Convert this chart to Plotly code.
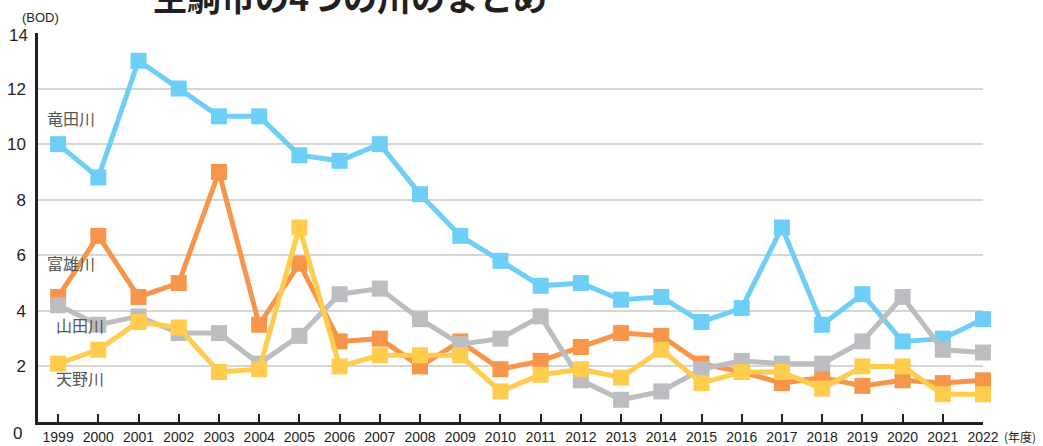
import plotly.graph_objects as go

YEARS = list(range(1999, 2023))

TATSUTA = [10.0, 8.8, 13.0, 12.0, 11.0, 11.0, 9.6, 9.4, 10.0, 8.2, 6.7, 5.8,
           4.9, 5.0, 4.4, 4.5, 3.6, 4.1, 7.0, 3.5, 4.6, 2.9, 3.0, 3.7]
TOMIO = [4.5, 6.7, 4.5, 5.0, 9.0, 3.5, 5.7, 2.9, 3.0, 2.0, 2.9, 1.9,
         2.2, 2.7, 3.2, 3.1, 2.1, 1.8, 1.4, 1.6, 1.3, 1.5, 1.4, 1.5]
YAMADA = [4.2, 3.5, 3.8, 3.2, 3.2, 2.1, 3.1, 4.6, 4.8, 3.7, 2.8, 3.0,
          3.8, 1.5, 0.8, 1.1, 1.9, 2.2, 2.1, 2.1, 2.9, 4.5, 2.6, 2.5]
AMANO = [2.1, 2.6, 3.6, 3.4, 1.8, 1.9, 7.0, 2.0, 2.4, 2.4, 2.4, 1.1,
         1.7, 1.9, 1.6, 2.6, 1.4, 1.8, 1.8, 1.2, 2.0, 2.0, 1.0, 1.0]

RIVERS = ["竜田川", "富雄川", "山田川", "天野川"]
Y_TICKS = [2, 4, 6, 8, 10, 12]

# draw order: blue at the bottom, yellow on top
SERIES = [
    ("竜田川", TATSUTA, "#6dcff6"),
    ("富雄川", TOMIO, "#f7964a"),
    ("山田川", YAMADA, "#bcbdc0"),
    ("天野川", AMANO, "#ffcc4e"),
]

TICK_FONT = "Liberation Sans, Arial, sans-serif"
JP_FONT = "Noto Sans CJK JP, sans-serif"

fig = go.Figure()
for name, vals, color in SERIES:
    fig.add_trace(go.Scatter(
        x=YEARS, y=vals, name=name,
        mode="lines+markers",
        line=dict(color=color, width=5),
        marker=dict(symbol="square", size=16, color=color),
        cliponaxis=False,
        showlegend=False,
    ))

# river labels at the left edge
label_pos = {
    "竜田川": (45, 118),
    "富雄川": (45, 263),
    "山田川": (54, 325),
    "天野川": (54, 378),
}
for name in RIVERS:
    px, py = label_pos[name]
    fig.add_annotation(
        x=0, y=1, xref="paper", yref="paper",
        xanchor="left", yanchor="middle",
        xshift=px - 38, yshift=33 - py,
        text=name, showarrow=False,
        font=dict(family=JP_FONT, size=16, color="#555555"),
    )

# title (clipped at the top of the page, as in the reference)
fig.add_annotation(
    x=0, y=1, xref="paper", yref="paper",
    xanchor="left", yanchor="middle",
    xshift=113, yshift=37,
    text="<b>生駒市の4つの川のまとめ</b>", showarrow=False,
    font=dict(family=JP_FONT, size=34, color="#231f20"),
)

# unit labels
fig.add_annotation(
    x=0, y=1, xref="paper", yref="paper",
    xanchor="center", yanchor="middle",
    xshift=2, yshift=16,
    text="(BOD)", showarrow=False,
    font=dict(family=TICK_FONT, size=13, color="#231f20"),
)
fig.add_annotation(
    x=1, y=0, xref="paper", yref="paper",
    xanchor="left", yanchor="middle",
    xshift=19, yshift=-14,
    text="(年度)", showarrow=False,
    font=dict(family=JP_FONT, size=12, color="#231f20"),
)

# y labels for 14 and 0 (no gridline at 14, "0" sits low)
fig.add_annotation(
    x=0, y=1, xref="paper", yref="paper",
    xanchor="right", yanchor="middle",
    xshift=-8, yshift=-2,
    text="14", showarrow=False,
    font=dict(family=TICK_FONT, size=17, color="#231f20"),
)
fig.add_annotation(
    x=0, y=0, xref="paper", yref="paper",
    xanchor="right", yanchor="middle",
    xshift=-14, yshift=-11,
    text="0", showarrow=False,
    font=dict(family=TICK_FONT, size=17, color="#231f20"),
)

fig.update_layout(
    width=1043, height=446,
    margin=dict(l=38, r=60, t=33, b=24),
    paper_bgcolor="white",
    plot_bgcolor="white",
    xaxis=dict(
        range=[1998.5, 2022],
        tickvals=YEARS,
        ticktext=[str(y) for y in YEARS],
        showgrid=False, zeroline=False,
        showline=True, linecolor="#231f20", linewidth=2.5,
        ticks="inside", ticklen=8, tickwidth=2, tickcolor="#231f20",
        tickfont=dict(family=TICK_FONT, size=14, color="#231f20"),
        automargin=False,
        fixedrange=True,
    ),
    yaxis=dict(
        range=[0, 14],
        tickvals=Y_TICKS,
        ticktext=[str(v) for v in Y_TICKS],
        showgrid=True, gridcolor="#d6d6d6", gridwidth=1.5,
        zeroline=False,
        showline=True, linecolor="#231f20", linewidth=2.5,
        ticks="", ticklabelstandoff=6,
        tickfont=dict(family=TICK_FONT, size=17, color="#231f20"),
        automargin=False,
        fixedrange=True,
    ),
)

# the page body has a default 8px margin; remove it so the figure fills the window
fig.write_html(
    "out.html",
    config={"displayModeBar": False},
    post_script="document.body.style.margin='0';",
)
